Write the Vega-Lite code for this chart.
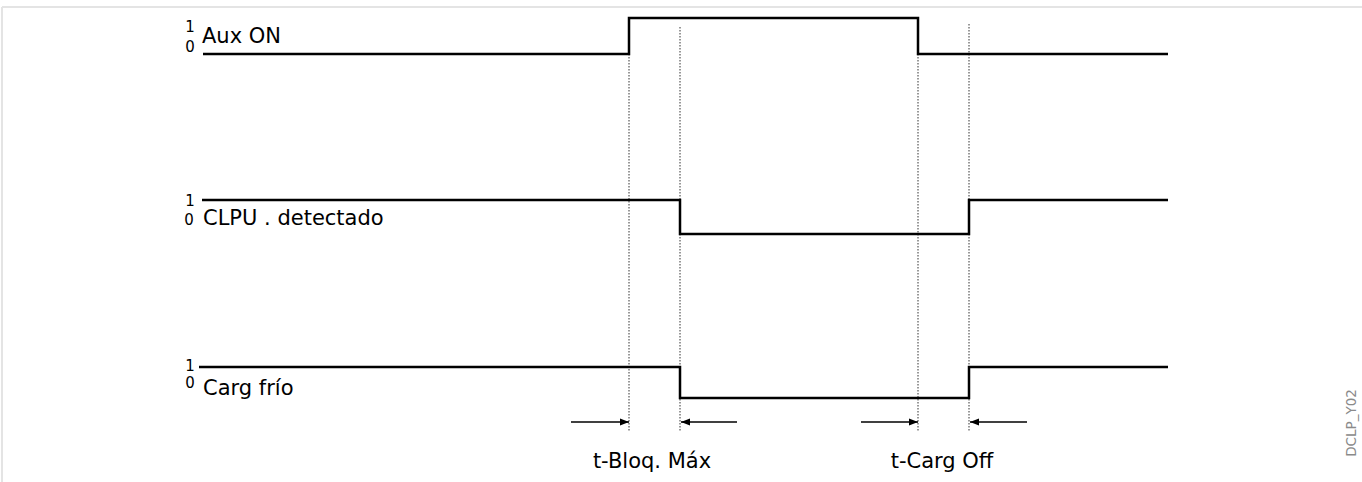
{
  "$schema": "https://vega.github.io/schema/vega-lite/v6.json",
  "width": 1362,
  "height": 482,
  "padding": 0,
  "autosize": {"type": "none"},
  "background": "white",
  "config": {"view": {"stroke": null}, "font": "DejaVu Sans"},
  "datasets": {
    "signals": [
      {"signal": "Aux ON", "t": 203, "y": 54},
      {"signal": "Aux ON", "t": 629, "y": 18},
      {"signal": "Aux ON", "t": 918, "y": 54},
      {"signal": "Aux ON", "t": 1168, "y": 54},
      {"signal": "CLPU", "t": 202, "y": 200},
      {"signal": "CLPU", "t": 680, "y": 234},
      {"signal": "CLPU", "t": 969, "y": 200},
      {"signal": "CLPU", "t": 1168, "y": 200},
      {"signal": "Carg", "t": 199, "y": 367},
      {"signal": "Carg", "t": 680, "y": 398},
      {"signal": "Carg", "t": 969, "y": 367},
      {"signal": "Carg", "t": 1168, "y": 367}
    ],
    "markers": [
      {"t": 629, "y1": 54, "y2": 431},
      {"t": 680, "y1": 27, "y2": 431},
      {"t": 918, "y1": 54, "y2": 431},
      {"t": 969, "y1": 24, "y2": 431}
    ],
    "arrows": [
      {"t0": 571, "t1": 629, "y": 422, "dir": "right"},
      {"t0": 737, "t1": 681, "y": 422, "dir": "left"},
      {"t0": 861, "t1": 918, "y": 422, "dir": "right"},
      {"t0": 1027, "t1": 970, "y": 422, "dir": "left"}
    ],
    "bigLabels": [
      {"text": "Aux ON", "t": 202, "y": 43},
      {"text": "CLPU . detectado", "t": 203, "y": 225},
      {"text": "Carg frío", "t": 203, "y": 395}
    ],
    "levelLabels": [
      {"text": "1", "t": 190, "y": 32},
      {"text": "0", "t": 190, "y": 52},
      {"text": "1", "t": 190, "y": 206},
      {"text": "0", "t": 189, "y": 225},
      {"text": "1", "t": 190, "y": 371},
      {"text": "0", "t": 190, "y": 388}
    ],
    "timeLabels": [
      {"text": "t-Bloq. Máx", "t": 652, "y": 468},
      {"text": "t-Carg Off", "t": 942, "y": 468}
    ],
    "tag": [
      {"text": "DCLP_Y02", "t": 1352, "y": 423}
    ],
    "frameH": [{"t0": 2, "t1": 1362, "y": 7}],
    "frameV": [{"t": 2, "y1": 7, "y2": 482}]
  },
  "layer": [
    {
      "data": {"name": "frameH"},
      "mark": {"type": "rule", "stroke": "#e4e4e4", "strokeWidth": 2},
      "encoding": {
        "x": {"field": "t0", "type": "quantitative", "scale": {"domain": [0, 1362]}, "axis": null},
        "x2": {"field": "t1"},
        "y": {"field": "y", "type": "quantitative", "scale": {"domain": [0, 482], "reverse": true}, "axis": null}
      }
    },
    {
      "data": {"name": "frameV"},
      "mark": {"type": "rule", "stroke": "#e4e4e4", "strokeWidth": 2},
      "encoding": {
        "x": {"field": "t", "type": "quantitative", "scale": {"domain": [0, 1362]}, "axis": null},
        "y": {"field": "y1", "type": "quantitative", "scale": {"domain": [0, 482], "reverse": true}, "axis": null},
        "y2": {"field": "y2"}
      }
    },
    {
      "data": {"name": "markers"},
      "mark": {"type": "rule", "stroke": "#333333", "strokeWidth": 1, "strokeDash": [1.5, 1.5]},
      "encoding": {
        "x": {"field": "t", "type": "quantitative", "scale": {"domain": [0, 1362]}, "axis": null},
        "y": {"field": "y1", "type": "quantitative", "scale": {"domain": [0, 482], "reverse": true}, "axis": null},
        "y2": {"field": "y2"}
      }
    },
    {
      "data": {"name": "signals"},
      "mark": {"type": "line", "interpolate": "step-after", "stroke": "black", "strokeWidth": 2.5, "strokeCap": "butt", "strokeJoin": "miter"},
      "encoding": {
        "x": {"field": "t", "type": "quantitative", "scale": {"domain": [0, 1362]}, "axis": null},
        "y": {"field": "y", "type": "quantitative", "scale": {"domain": [0, 482], "reverse": true}, "axis": null},
        "detail": {"field": "signal"}
      }
    },
    {
      "data": {"name": "arrows"},
      "mark": {"type": "rule", "stroke": "black", "strokeWidth": 1.5},
      "encoding": {
        "x": {"field": "t0", "type": "quantitative", "scale": {"domain": [0, 1362]}, "axis": null},
        "x2": {"field": "t1"},
        "y": {"field": "y", "type": "quantitative", "scale": {"domain": [0, 482], "reverse": true}, "axis": null}
      }
    },
    {
      "data": {"name": "arrows"},
      "transform": [{"filter": "datum.dir === 'right'"}],
      "mark": {"type": "point", "shape": "M0,0L-1,-0.38L-1,0.38Z", "filled": true, "fill": "black", "stroke": null, "size": 324, "opacity": 1},
      "encoding": {
        "x": {"field": "t1", "type": "quantitative", "scale": {"domain": [0, 1362]}, "axis": null},
        "y": {"field": "y", "type": "quantitative", "scale": {"domain": [0, 482], "reverse": true}, "axis": null}
      }
    },
    {
      "data": {"name": "arrows"},
      "transform": [{"filter": "datum.dir === 'left'"}],
      "mark": {"type": "point", "shape": "M0,0L1,-0.38L1,0.38Z", "filled": true, "fill": "black", "stroke": null, "size": 324, "opacity": 1},
      "encoding": {
        "x": {"field": "t1", "type": "quantitative", "scale": {"domain": [0, 1362]}, "axis": null},
        "y": {"field": "y", "type": "quantitative", "scale": {"domain": [0, 482], "reverse": true}, "axis": null}
      }
    },
    {
      "data": {"name": "bigLabels"},
      "mark": {"type": "text", "align": "left", "baseline": "alphabetic", "fontSize": 21, "fill": "black", "font": "DejaVu Sans"},
      "encoding": {
        "x": {"field": "t", "type": "quantitative", "scale": {"domain": [0, 1362]}, "axis": null},
        "y": {"field": "y", "type": "quantitative", "scale": {"domain": [0, 482], "reverse": true}, "axis": null},
        "text": {"field": "text"}
      }
    },
    {
      "data": {"name": "levelLabels"},
      "mark": {"type": "text", "align": "center", "baseline": "alphabetic", "fontSize": 15, "fill": "black", "font": "DejaVu Sans"},
      "encoding": {
        "x": {"field": "t", "type": "quantitative", "scale": {"domain": [0, 1362]}, "axis": null},
        "y": {"field": "y", "type": "quantitative", "scale": {"domain": [0, 482], "reverse": true}, "axis": null},
        "text": {"field": "text"}
      }
    },
    {
      "data": {"name": "timeLabels"},
      "mark": {"type": "text", "align": "center", "baseline": "alphabetic", "fontSize": 21, "fill": "black", "font": "DejaVu Sans"},
      "encoding": {
        "x": {"field": "t", "type": "quantitative", "scale": {"domain": [0, 1362]}, "axis": null},
        "y": {"field": "y", "type": "quantitative", "scale": {"domain": [0, 482], "reverse": true}, "axis": null},
        "text": {"field": "text"}
      }
    },
    {
      "data": {"name": "tag"},
      "mark": {"type": "text", "align": "center", "baseline": "middle", "angle": 270, "fontSize": 13.5, "fill": "#8a8a8a", "font": "DejaVu Sans"},
      "encoding": {
        "x": {"field": "t", "type": "quantitative", "scale": {"domain": [0, 1362]}, "axis": null},
        "y": {"field": "y", "type": "quantitative", "scale": {"domain": [0, 482], "reverse": true}, "axis": null},
        "text": {"field": "text"}
      }
    }
  ]
}
